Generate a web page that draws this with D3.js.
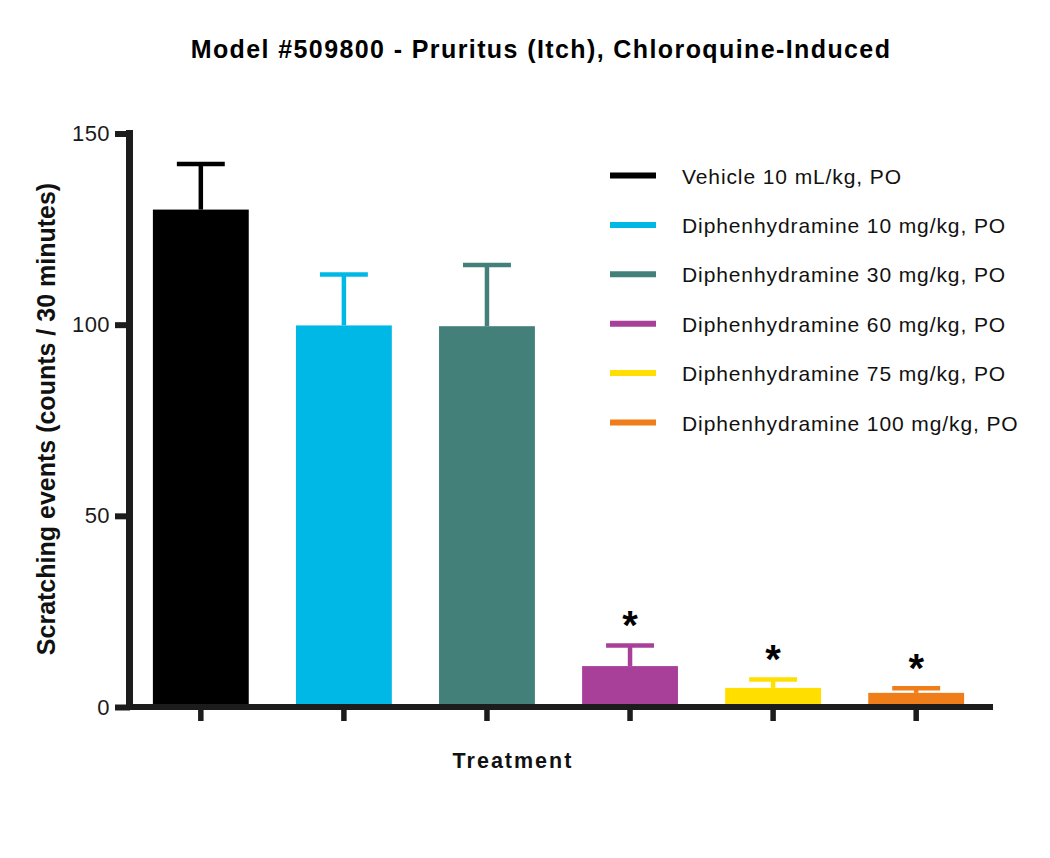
<!DOCTYPE html>
<html>
<head>
<meta charset="utf-8">
<script src="https://cdn.jsdelivr.net/npm/d3@7"></script>
<style>
  body { margin: 0; background: #fff; }
  text { font-family: "Liberation Sans", Arial, Helvetica, sans-serif; }
</style>
</head>
<body>
<svg id="chart" width="1050" height="858"></svg>
<script>
const title = "Model #509800 - Pruritus (Itch), Chloroquine-Induced";
const yTitle = "Scratching events (counts / 30 minutes)";
const xTitle = "Treatment";
const categories = ["Vehicle 10 mL/kg, PO", "Diphenhydramine 10 mg/kg, PO", "Diphenhydramine 30 mg/kg, PO",
  "Diphenhydramine 60 mg/kg, PO", "Diphenhydramine 75 mg/kg, PO", "Diphenhydramine 100 mg/kg, PO"];
const means = [130.1, 99.8, 99.6, 10.7, 5.0, 3.7];
const errors = [11.9, 13.3, 16.0, 5.4, 2.2, 1.2];
const significant = [false, false, false, true, true, true];
const colors = ["#000000", "#00b8e6", "#43807a", "#a8409a", "#ffde00", "#ef7e1a"];
const yTicks = [0, 50, 100, 150];

const svg = d3.select("#chart");
const axisColor = "#1c1c1c";

const y = d3.scaleLinear().domain([0, 150]).range([707, 133.5]);
const x = d3.scaleBand().domain(categories).range([130, 987]).paddingInner(0.33).paddingOuter(0.16);

// Title
svg.append("text").attr("x", 541).attr("y", 58).attr("text-anchor", "middle")
  .attr("font-size", 25).attr("font-weight", "bold").attr("letter-spacing", 1.4)
  .attr("fill", "#000").text(title);

// Bars
const g = svg.append("g");
g.selectAll("rect.bar").data(categories).join("rect")
  .attr("class", "bar")
  .attr("x", d => x(d))
  .attr("width", x.bandwidth())
  .attr("y", (d, i) => y(means[i]))
  .attr("height", (d, i) => y(0) - y(means[i]))
  .attr("fill", (d, i) => colors[i]);

// Error bars
g.selectAll("line.err").data(categories).join("line")
  .attr("x1", d => x(d) + x.bandwidth() / 2)
  .attr("x2", d => x(d) + x.bandwidth() / 2)
  .attr("y1", (d, i) => y(means[i]))
  .attr("y2", (d, i) => y(means[i] + errors[i]))
  .attr("stroke", (d, i) => colors[i]).attr("stroke-width", 4.5);
g.selectAll("line.cap").data(categories).join("line")
  .attr("x1", d => x(d) + x.bandwidth() / 4)
  .attr("x2", d => x(d) + x.bandwidth() * 3 / 4)
  .attr("y1", (d, i) => y(means[i] + errors[i]))
  .attr("y2", (d, i) => y(means[i] + errors[i]))
  .attr("stroke", (d, i) => colors[i]).attr("stroke-width", 4.5);

// Significance asterisks
const starSize = 40;
g.selectAll("text.star").data(categories.filter((d, i) => significant[i])).join("text")
  .attr("x", d => x(d) + x.bandwidth() / 2)
  .attr("y", d => { const i = categories.indexOf(d); return y(means[i] + errors[i]) - 28 + starSize * 0.55; })
  .attr("text-anchor", "middle").attr("font-size", starSize).attr("font-weight", "bold")
  .attr("fill", "#000").text("*");

// Y axis
const yAxis = svg.append("g").attr("transform", "translate(130,0)")
  .call(d3.axisLeft(y).tickValues(yTicks).tickSize(15).tickSizeOuter(0).tickPadding(5));
yAxis.select(".domain").remove();
yAxis.selectAll(".tick line").attr("stroke", axisColor).attr("stroke-width", 6);
yAxis.selectAll(".tick text").attr("font-size", 22).attr("fill", "#1a1a1a")
  .attr("letter-spacing", 0.4).attr("font-family", "Liberation Sans, Arial, sans-serif");
svg.append("line").attr("x1", 129.5).attr("x2", 129.5).attr("y1", y(150) - 3.5).attr("y2", y(0) + 3)
  .attr("stroke", axisColor).attr("stroke-width", 7);

// X axis
const xAxis = svg.append("g").attr("transform", `translate(0,${y(0)})`)
  .call(d3.axisBottom(x).tickSize(14).tickSizeOuter(0).tickFormat(""));
xAxis.select(".domain").remove();
xAxis.selectAll(".tick line").attr("stroke", axisColor).attr("stroke-width", 5.5);
svg.append("line").attr("x1", 126).attr("x2", 993).attr("y1", y(0)).attr("y2", y(0))
  .attr("stroke", axisColor).attr("stroke-width", 6);

// Axis titles
svg.append("text").attr("transform", "translate(55,419) rotate(-90)")
  .attr("text-anchor", "middle").attr("font-size", 25).attr("font-weight", "bold")
  .attr("fill", "#111").text(yTitle);
svg.append("text").attr("x", 513).attr("y", 768).attr("text-anchor", "middle")
  .attr("font-size", 21.5).attr("font-weight", "bold").attr("letter-spacing", 2)
  .attr("fill", "#111").text(xTitle);

// Legend
const ly = d3.scalePoint().domain(categories).range([175.5, 422.5]);
const legend = svg.append("g");
legend.selectAll("line").data(categories).join("line")
  .attr("x1", 610).attr("x2", 656)
  .attr("y1", d => ly(d)).attr("y2", d => ly(d))
  .attr("stroke", (d, i) => colors[i]).attr("stroke-width", 6);
legend.selectAll("text").data(categories).join("text")
  .attr("x", 682).attr("y", d => ly(d) + 8)
  .attr("font-size", 21).attr("letter-spacing", 0.9).attr("fill", "#111")
  .text(d => d);
</script>
</body>
</html>
